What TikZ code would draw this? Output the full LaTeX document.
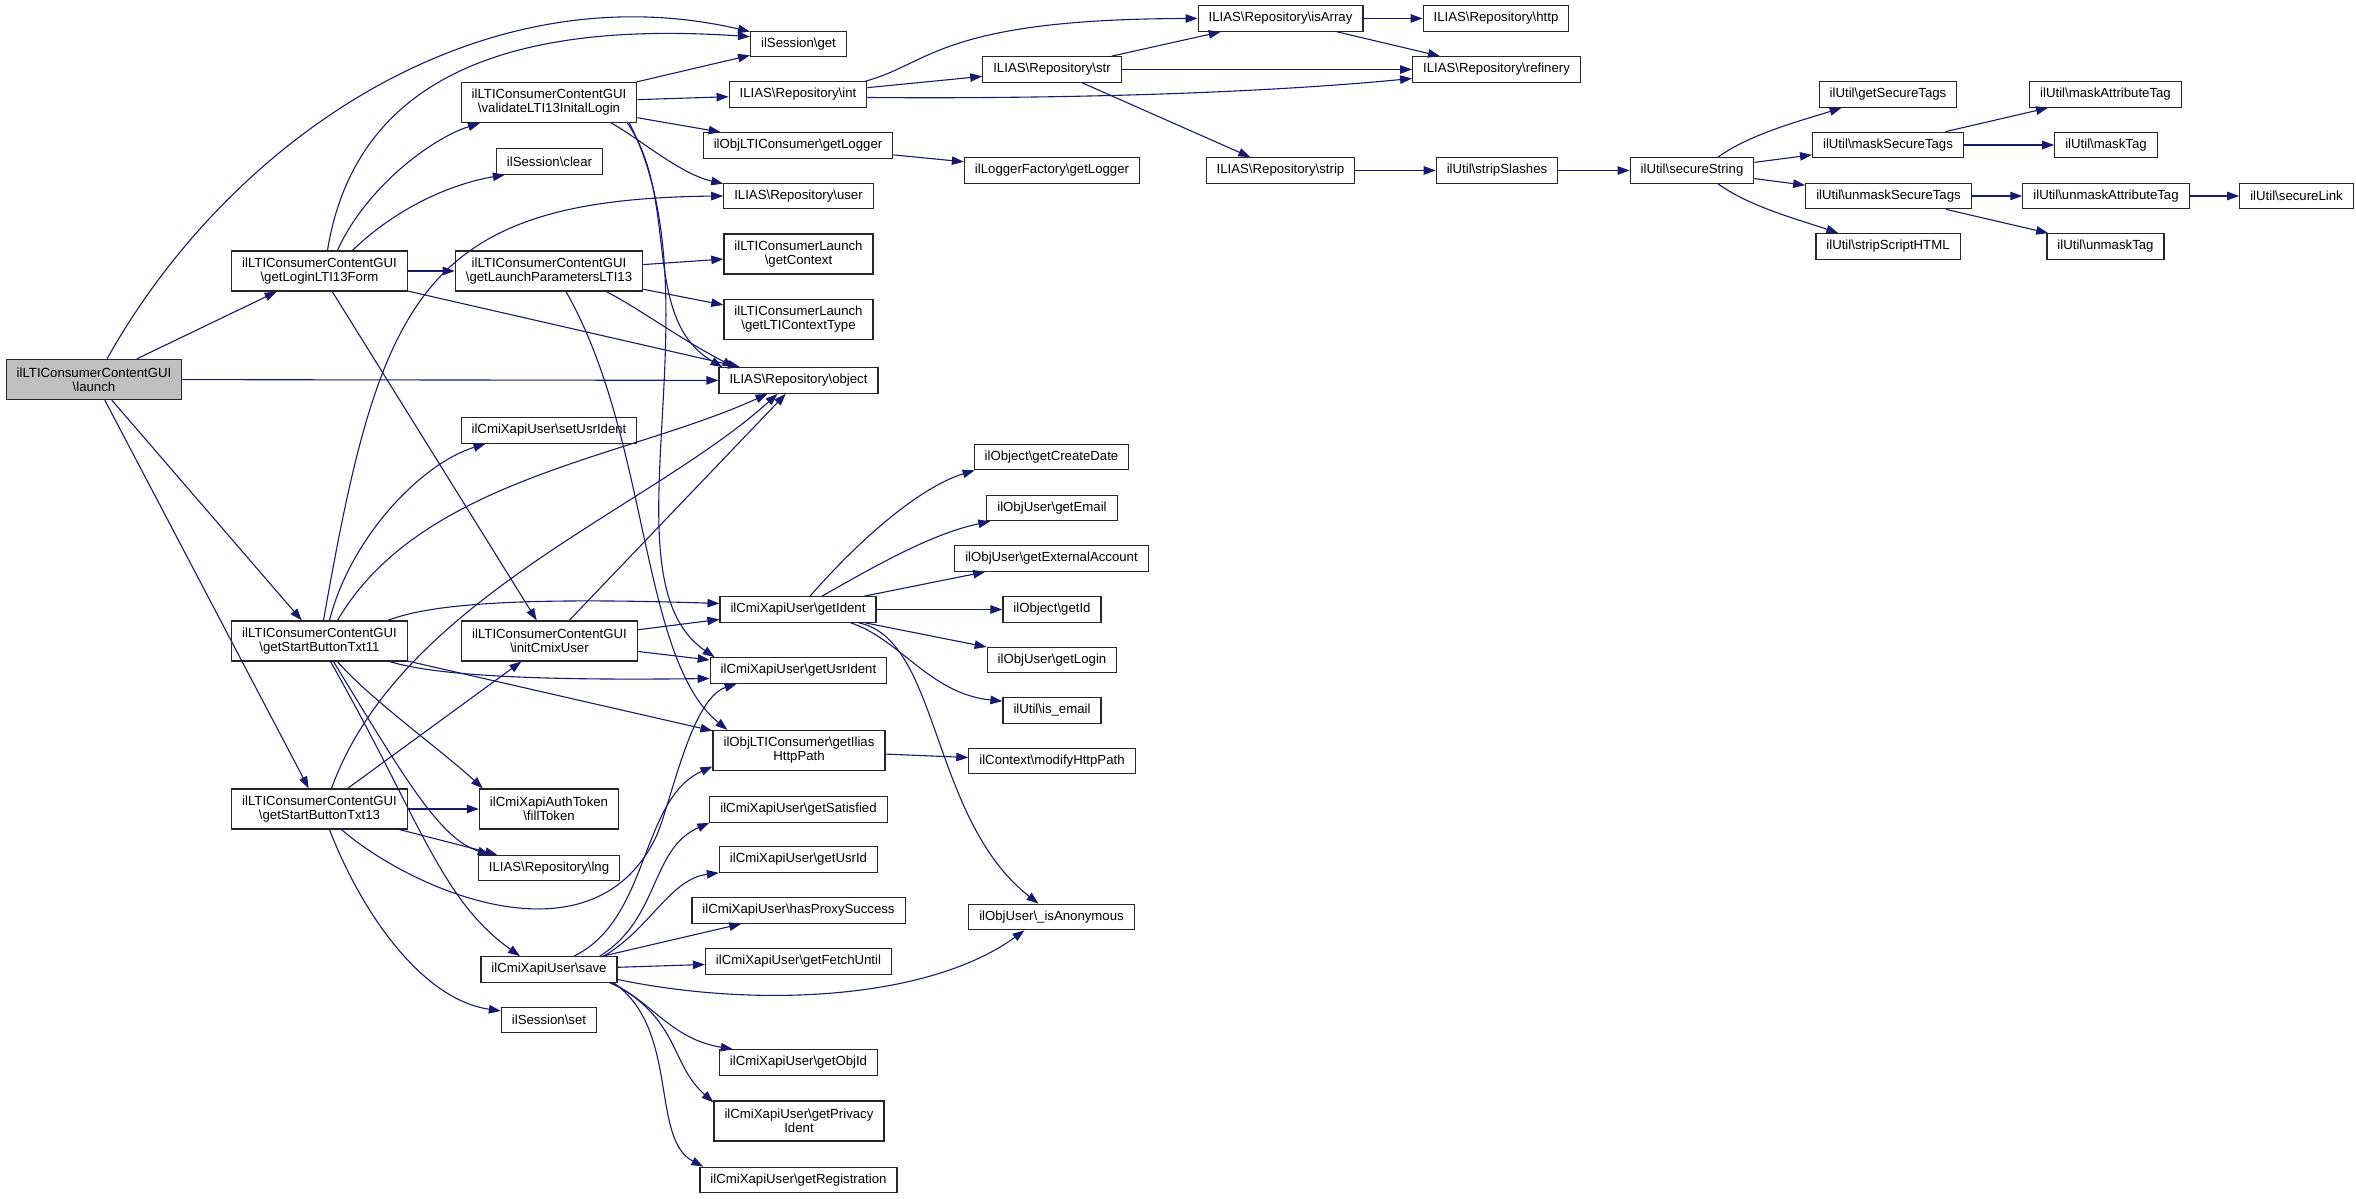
\documentclass[tikz,border=0pt]{standalone}
\usepackage{fontspec}
\setmainfont{Liberation Sans}
\usetikzlibrary{arrows.meta}

\definecolor{edgeblue}{RGB}{25,25,112}
\definecolor{rootgray}{RGB}{191,191,191}

\begin{document}
\begin{tikzpicture}[x=1pt, y=1pt,
    fnbox/.style={draw=black!85, line width=1.2pt, fill=white, align=center,
        font=\fontsize{13.2}{14}\selectfont, inner xsep=10.5pt, inner ysep=2pt,
        minimum height=25.5pt},
    twoline/.style={minimum height=40pt},
    fnroot/.style={fill=rootgray},
    callarrow/.style={draw=edgeblue, line width=1.1pt, -{Triangle[length=12pt, width=8.5pt]}}]

    \path[use as bounding box, fill=white] (0,0) rectangle (2356,1199);

    % caller and first level
    \node[fnbox, fnroot, twoline] (launch) at (94,819.5) {ilLTIConsumerContentGUI\\\textbackslash launch};
    \node[fnbox, twoline] (loginForm) at (319.5,928) {ilLTIConsumerContentGUI\\\textbackslash getLoginLTI13Form};
    \node[fnbox, twoline] (startTxt11) at (319.5,558) {ilLTIConsumerContentGUI\\\textbackslash getStartButtonTxt11};
    \node[fnbox, twoline] (startTxt13) at (319.5,390) {ilLTIConsumerContentGUI\\\textbackslash getStartButtonTxt13};

    % second level
    \node[fnbox, twoline] (validateLogin) at (549,1096.5) {ilLTIConsumerContentGUI\\\textbackslash validateLTI13InitalLogin};
    \node[fnbox] (sessClear) at (549.5,1037.5) {ilSession\textbackslash clear};
    \node[fnbox, twoline] (launchParams) at (549,928) {ilLTIConsumerContentGUI\\\textbackslash getLaunchParametersLTI13};
    \node[fnbox] (setUsrIdent) at (549,768.5) {ilCmiXapiUser\textbackslash setUsrIdent};
    \node[fnbox, twoline] (initCmix) at (549.5,558) {ilLTIConsumerContentGUI\\\textbackslash initCmixUser};
    \node[fnbox, twoline] (fillToken) at (549,390) {ilCmiXapiAuthToken\\\textbackslash fillToken};
    \node[fnbox] (repoLng) at (549,331) {ILIAS\textbackslash Repository\textbackslash lng};
    \node[fnbox] (userSave) at (549,229.5) {ilCmiXapiUser\textbackslash save};
    \node[fnbox] (sessSet) at (549,179) {ilSession\textbackslash set};

    % third level
    \node[fnbox] (sessGet) at (798.5,1155) {ilSession\textbackslash get};
    \node[fnbox] (repoInt) at (798,1104.5) {ILIAS\textbackslash Repository\textbackslash int};
    \node[fnbox] (objLogger) at (798,1053.5) {ilObjLTIConsumer\textbackslash getLogger};
    \node[fnbox] (repoUser) at (798.5,1003) {ILIAS\textbackslash Repository\textbackslash user};
    \node[fnbox, twoline] (launchCtx) at (798.5,945) {ilLTIConsumerLaunch\\\textbackslash getContext};
    \node[fnbox, twoline] (launchCtxType) at (798.5,879.5) {ilLTIConsumerLaunch\\\textbackslash getLTIContextType};
    \node[fnbox] (repoObject) at (798.5,818.5) {ILIAS\textbackslash Repository\textbackslash object};
    \node[fnbox] (getIdent) at (798,589.5) {ilCmiXapiUser\textbackslash getIdent};
    \node[fnbox] (getUsrIdent) at (798.5,528.5) {ilCmiXapiUser\textbackslash getUsrIdent};
    \node[fnbox, twoline] (iliasPath) at (799,448.5) {ilObjLTIConsumer\textbackslash getIlias\\HttpPath};
    \node[fnbox] (getSatisfied) at (798.5,389.5) {ilCmiXapiUser\textbackslash getSatisfied};
    \node[fnbox] (getUsrId) at (798.5,339.5) {ilCmiXapiUser\textbackslash getUsrId};
    \node[fnbox] (hasProxy) at (798.5,288.5) {ilCmiXapiUser\textbackslash hasProxySuccess};
    \node[fnbox] (getFetch) at (798.5,237.5) {ilCmiXapiUser\textbackslash getFetchUntil};
    \node[fnbox] (getObjId) at (798.5,136.5) {ilCmiXapiUser\textbackslash getObjId};
    \node[fnbox, twoline] (getPrivacy) at (799,78) {ilCmiXapiUser\textbackslash getPrivacy\\Ident};
    \node[fnbox] (getRegistration) at (798.5,19) {ilCmiXapiUser\textbackslash getRegistration};

    % fourth level
    \node[fnbox] (repoStr) at (1052,1129.5) {ILIAS\textbackslash Repository\textbackslash str};
    \node[fnbox] (loggerFactory) at (1052,1028.5) {ilLoggerFactory\textbackslash getLogger};
    \node[fnbox] (createDate) at (1051.5,742) {ilObject\textbackslash getCreateDate};
    \node[fnbox] (getEmail) at (1052,691) {ilObjUser\textbackslash getEmail};
    \node[fnbox] (extAccount) at (1051.5,640.5) {ilObjUser\textbackslash getExternalAccount};
    \node[fnbox] (objGetId) at (1052,589.5) {ilObject\textbackslash getId};
    \node[fnbox] (userLogin) at (1052,539) {ilObjUser\textbackslash getLogin};
    \node[fnbox] (isEmail) at (1052,488.5) {ilUtil\textbackslash is\_email};
    \node[fnbox] (modifyPath) at (1052,438) {ilContext\textbackslash modifyHttpPath};
    \node[fnbox] (isAnon) at (1051.5,282) {ilObjUser\textbackslash \_isAnonymous};

    % repository and ilUtil helpers
    \node[fnbox] (isArray) at (1280.5,1180.5) {ILIAS\textbackslash Repository\textbackslash isArray};
    \node[fnbox] (repoStrip) at (1280.5,1028.5) {ILIAS\textbackslash Repository\textbackslash strip};
    \node[fnbox] (repoHttp) at (1496,1180.5) {ILIAS\textbackslash Repository\textbackslash http};
    \node[fnbox] (refinery) at (1496.5,1129.5) {ILIAS\textbackslash Repository\textbackslash refinery};
    \node[fnbox] (stripSlashes) at (1497,1028.5) {ilUtil\textbackslash stripSlashes};
    \node[fnbox] (secureString) at (1692,1028.5) {ilUtil\textbackslash secureString};
    \node[fnbox] (secureTags) at (1888,1104.5) {ilUtil\textbackslash getSecureTags};
    \node[fnbox] (maskSecure) at (1888,1054) {ilUtil\textbackslash maskSecureTags};
    \node[fnbox] (unmaskSecure) at (1888.5,1003) {ilUtil\textbackslash unmaskSecureTags};
    \node[fnbox] (stripScript) at (1888,952.5) {ilUtil\textbackslash stripScriptHTML};
    \node[fnbox] (maskAttr) at (2105.5,1104.5) {ilUtil\textbackslash maskAttributeTag};
    \node[fnbox] (maskTag) at (2106,1054) {ilUtil\textbackslash maskTag};
    \node[fnbox] (unmaskAttr) at (2106,1003) {ilUtil\textbackslash unmaskAttributeTag};
    \node[fnbox] (unmaskTag) at (2105.5,952.5) {ilUtil\textbackslash unmaskTag};
    \node[fnbox] (secureLink) at (2296.5,1003) {ilUtil\textbackslash secureLink};

    % calls of launch
    \draw[callarrow] ([xshift=13pt]launch.north) .. controls (230,1060) and (480,1230) .. ([yshift=-1pt]sessGet.north west);
    \draw[callarrow] (launch) -- (loginForm);
    \draw[callarrow] (launch) -- (repoObject);
    \draw[callarrow] (launch) -- (startTxt11);
    \draw[callarrow] (launch) -- (startTxt13);

    % calls of getLoginLTI13Form
    \draw[callarrow] ([xshift=8pt]loginForm.north) .. controls (360,1150) and (560,1175) .. ([yshift=-6pt]sessGet.north west);
    \draw[callarrow] ([xshift=18pt]loginForm.north) .. controls (365,1010) and (430,1060) .. ([xshift=-69pt]validateLogin.south);
    \draw[callarrow] ([xshift=33pt]loginForm.north) .. controls (395,990) and (450,1015) .. ([xshift=9pt]sessClear.south west);
    \draw[callarrow] (loginForm) -- (launchParams);
    \draw[callarrow] (loginForm) -- (repoObject);
    \draw[callarrow] (loginForm) -- (initCmix);

    % calls of validateLTI13InitalLogin
    \draw[callarrow] (validateLogin) -- (sessGet);
    \draw[callarrow] (validateLogin) -- (repoInt);
    \draw[callarrow] (validateLogin) -- (objLogger);
    \draw[callarrow] ([xshift=-26pt]validateLogin.south east) .. controls (640,1060) and (680,1025) .. ([yshift=-1pt]repoUser.north west);
    \draw[callarrow] ([xshift=-10pt]validateLogin.south east) .. controls (680,1000) and (640,880) .. ([xshift=4pt]repoObject.north west);
    \draw[callarrow] ([xshift=-8pt]validateLogin.south east) .. controls (720,900) and (600,620) .. ([xshift=5pt]getUsrIdent.north west);

    % calls of getLaunchParametersLTI13
    \draw[callarrow] (launchParams) -- (launchCtx);
    \draw[callarrow] (launchParams) -- (launchCtxType);
    \draw[callarrow] ([xshift=-37pt]launchParams.south east) .. controls (640,890) and (680,860) .. ([xshift=16pt]repoObject.north west);
    \draw[callarrow] ([xshift=17pt]launchParams.south) .. controls (650,760) and (640,540) .. ([xshift=15pt]iliasPath.north west);

    % calls of getStartButtonTxt11
    \draw[callarrow] ([xshift=4pt]startTxt11.north) .. controls (380,900) and (420,1000) .. (repoUser.west);
    \draw[callarrow] ([xshift=10pt]startTxt11.north) .. controls (350,660) and (420,735) .. ([xshift=25pt]setUsrIdent.south west);
    \draw[callarrow] ([xshift=18pt]startTxt11.north) .. controls (420,720) and (627,741) .. ([xshift=-31pt]repoObject.south);
    \draw[callarrow] ([xshift=-20pt]startTxt11.north east) .. controls (430,595) and (520,602) .. ([yshift=6pt]getIdent.west);
    \draw[callarrow] ([xshift=-18pt]startTxt11.south east) .. controls (430,525) and (520,518) .. ([yshift=-8pt]getUsrIdent.west);
    \draw[callarrow] (startTxt11) -- (iliasPath);
    \draw[callarrow] ([xshift=18pt]startTxt11.south) .. controls (370,500) and (440,450) .. ([xshift=4pt]fillToken.north west);
    \draw[callarrow] ([xshift=14pt]startTxt11.south) .. controls (405,420) and (440,360) .. ([xshift=12pt]repoLng.north west);
    \draw[callarrow] ([xshift=11pt]startTxt11.south) .. controls (420,380) and (440,300) .. ([xshift=-29pt]userSave.north);

    % calls of getStartButtonTxt13
    \draw[callarrow] ([xshift=12pt]startTxt13.north) .. controls (400,600) and (650,690) .. ([xshift=-21pt]repoObject.south);
    \draw[callarrow] (startTxt13) -- (initCmix);
    \draw[callarrow] (startTxt13) -- (fillToken);
    \draw[callarrow] (startTxt13) -- (repoLng);
    \draw[callarrow] ([xshift=22pt]startTxt13.south) .. controls (410,310) and (590,230) .. (655,360)
        .. controls (670,390) and (690,500) .. ([xshift=27pt]getUsrIdent.south west);
    \draw[callarrow] ([xshift=10pt]startTxt13.south) .. controls (360,290) and (420,200) .. ([yshift=9pt]sessSet.west);

    % calls of initCmixUser
    \draw[callarrow] (initCmix) -- (repoObject);
    \draw[callarrow] (initCmix) -- (getIdent);
    \draw[callarrow] (initCmix) -- (getUsrIdent);

    % calls of save
    \draw[callarrow] ([xshift=25pt]userSave.north) .. controls (650,280) and (640,400) .. ([yshift=-16pt]iliasPath.west);
    \draw[callarrow] ([xshift=-18pt]userSave.north east) .. controls (660,280) and (650,350) .. (getSatisfied.south west);
    \draw[callarrow] ([xshift=-14pt]userSave.north east) .. controls (650,270) and (670,320) .. (getUsrId.south west);
    \draw[callarrow] ([xshift=-15pt]userSave.north east) -- (hasProxy);
    \draw[callarrow] (userSave) -- (getFetch);
    \draw[callarrow] ([yshift=-10pt]userSave.east) .. controls (760,190) and (930,200) .. ([xshift=-27pt]isAnon.south);
    \draw[callarrow] ([xshift=-8pt]userSave.south east) .. controls (650,200) and (670,160) .. ([xshift=14pt]getObjId.north west);
    \draw[callarrow] ([xshift=-6pt]userSave.south east) .. controls (680,180) and (670,135) .. ([yshift=-2pt]getPrivacy.north west);
    \draw[callarrow] ([xshift=-4pt]userSave.south east) .. controls (680,170) and (650,60) .. ([xshift=4pt]getRegistration.north west);

    % calls of getIdent
    \draw[callarrow] ([xshift=12pt]getIdent.north) .. controls (860,660) and (920,712) .. ([xshift=1pt]createDate.south west);
    \draw[callarrow] ([xshift=24pt]getIdent.north) .. controls (870,630) and (930,665) .. ([xshift=4pt]getEmail.south west);
    \draw[callarrow] (getIdent) -- (extAccount);
    \draw[callarrow] (getIdent) -- (objGetId);
    \draw[callarrow] (getIdent) -- (userLogin);
    \draw[callarrow] ([xshift=-26pt]getIdent.south east) .. controls (900,560) and (930,505) .. ([yshift=-4pt]isEmail.north west);
    \draw[callarrow] ([xshift=-18pt]getIdent.south east) .. controls (940,560) and (930,380) .. ([xshift=-13pt]isAnon.north);

    \draw[callarrow] (iliasPath) -- (modifyPath);
    \draw[callarrow] (objLogger) -- (loggerFactory);

    % repository helpers
    \draw[callarrow] ([xshift=-2pt]repoInt.north east) .. controls (930,1135) and (940,1180) .. (isArray.west);
    \draw[callarrow] (repoInt) -- (repoStr);
    \draw[callarrow] ([yshift=-3pt]repoInt.east) .. controls (1050,1100) and (1250,1105) .. ([yshift=-9pt]refinery.west);
    \draw[callarrow] (repoStr) -- (isArray);
    \draw[callarrow] (repoStr) -- (refinery);
    \draw[callarrow] (repoStr) -- (repoStrip);
    \draw[callarrow] (isArray) -- (repoHttp);
    \draw[callarrow] (isArray) -- (refinery);
    \draw[callarrow] (repoStrip) -- (stripSlashes);
    \draw[callarrow] (stripSlashes) -- (secureString);

    % ilUtil chain
    \draw[callarrow] ([xshift=26pt]secureString.north) .. controls (1750,1065) and (1800,1078) .. ([xshift=23pt]secureTags.south west);
    \draw[callarrow] (secureString) -- (maskSecure);
    \draw[callarrow] (secureString) -- (unmaskSecure);
    \draw[callarrow] ([xshift=26pt]secureString.south) .. controls (1750,992) and (1800,979) .. ([xshift=23pt]stripScript.north west);
    \draw[callarrow] (maskSecure) -- (maskAttr);
    \draw[callarrow] (maskSecure) -- (maskTag);
    \draw[callarrow] (unmaskSecure) -- (unmaskAttr);
    \draw[callarrow] (unmaskSecure) -- (unmaskTag);
    \draw[callarrow] (unmaskAttr) -- (secureLink);

\end{tikzpicture}
\end{document}
